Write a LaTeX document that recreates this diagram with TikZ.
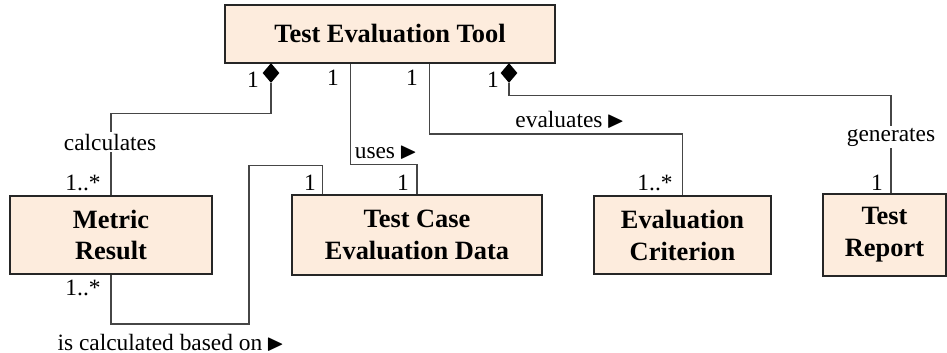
\documentclass[tikz,border=0pt]{standalone}
\usepackage{amssymb}
\usepackage{fontspec}
\setmainfont{Liberation Serif}
\usetikzlibrary{calc,shapes.geometric}
\definecolor{boxfill}{RGB}{253,236,221}
\definecolor{linegray}{RGB}{70,70,70}
\tikzset{
  umlbox/.style={draw=black!85, line width=0.9pt, fill=boxfill, align=center, inner sep=0pt,
    font=\fontsize{13.2}{16}\selectfont\bfseries},
  conn/.style={draw=linegray, line width=0.6pt},
  lbl/.style={font=\fontsize{11.7}{14}\selectfont, inner sep=1pt},
  comp/.style={diamond, fill=black, draw=none, minimum width=8.5pt, minimum height=10pt, inner sep=0pt},
}
\newcommand{\tri}{\,$\blacktriangleright$}
\begin{document}
\begin{tikzpicture}[x=0.5pt,y=-0.5pt]
\useasboundingbox (0,0) rectangle (947,353);
% boxes
\node[umlbox, minimum width=165pt, minimum height=29pt] (tool) at (390,34) {Test Evaluation Tool};
\node[umlbox, minimum width=101pt, minimum height=39pt] (metric) at (111,235) {Metric\\Result};
\node[umlbox, minimum width=125pt, minimum height=40pt] (tced) at (417,235) {Test Case\\Evaluation Data};
\node[umlbox, minimum width=88.5pt, minimum height=39pt] (ec) at (682.5,235) {Evaluation\\Criterion};
\node[umlbox, minimum width=61.5pt, minimum height=41pt] (report) at (884.5,235) {Test\\Report};
% composition diamonds
\node[comp] (d1) at (271,73) {};
\node[comp] (d2) at (509,73) {};
% calculates
\draw[conn] (d1.south) -- ($(d1.south)+(0,30)$) -| (metric.north);
\node[lbl, fill=white] (lcalc) at (110,142) {calculates};
\node[lbl] (m1) at (253,80) {1};
\node[lbl] (m2) at (83,183) {1..*};
% uses
\coordinate (u0) at ($(tool.south west)+(126,0)$);
\draw[conn] (u0) |- ($(tced.north)+(0,-30)$) -- (tced.north);
\node[lbl] (luses) at (386,152) {uses\tri};
\node[lbl] (m3) at (333,78) {1};
\node[lbl] (m4) at (403,183) {1};
% evaluates
\coordinate (e0) at ($(tool.south west)+(205,0)$);
\draw[conn] (e0) |- ($(ec.north)+(0,-61)$) -- (ec.north);
\node[lbl] (leval) at (570,120) {evaluates\tri};
\node[lbl] (m5) at (412,78) {1};
\node[lbl] (m6) at (655,183) {1..*};
% generates
\draw[conn] (d2.south) -- ($(d2.south)+(0,12)$) -| ($(report.north)+(6.5,0)$);
\node[lbl, fill=white] (lgen) at (891,137) {generates};
\node[lbl] (m7) at (493,80) {1};
\node[lbl] (m8) at (877,183) {1};
% is calculated based on
\draw[conn] (metric.south) |- ($(metric.south)+(138,49)$) |- ($(tced.north west)+(31,-29)$) -- ($(tced.north west)+(31,0)$);
\node[lbl] (lbased) at (171,343) {is calculated based on\tri};
\node[lbl] (m9) at (83,288) {1..*};
\node[lbl] (m10) at (310,183) {1};
\end{tikzpicture}
\end{document}
